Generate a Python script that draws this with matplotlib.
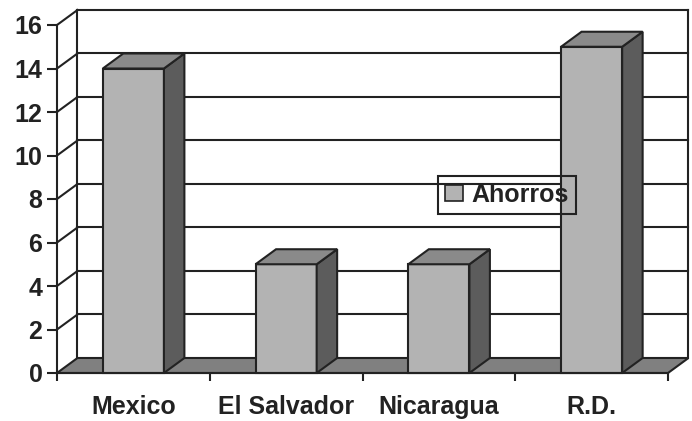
import matplotlib
matplotlib.use("Agg")
import matplotlib.pyplot as plt
from matplotlib.patches import Polygon, Patch, Rectangle

categories = ["Mexico", "El Salvador", "Nicaragua", "R.D."]
ahorros = [14, 5, 5, 15]
series_name = "Ahorros"
y_ticks = [0, 2, 4, 6, 8, 10, 12, 14, 16]

# colours (excel grey 3d look)
front_col = "#b3b3b3"
top_col = "#8a8a8a"
side_col = "#5c5c5c"
floor_col = "#808080"
ink = "#222222"
lw = 1.5
fs = 18

plt.rcParams['font.family'] = ['Liberation Sans', 'DejaVu Sans']

fig = plt.figure(figsize=(6.92, 4.21), dpi=100)
ax = fig.add_axes([57 / 692, 48 / 421, 611 / 692, 348 / 421])
ax.set_xlim(0, len(categories))
ax.set_ylim(0, 16)

# depth offset of the 3d box, in data units
dx = 0.134
dy = 0.69
n = len(categories)


def poly(pts, fc, z):
    ax.add_patch(Polygon(pts, closed=True, facecolor=fc, edgecolor=ink,
                         linewidth=lw, joinstyle='miter', clip_on=False, zorder=z))


# back wall + side wall gridlines
for v in y_ticks[1:]:
    ax.plot([dx, n + dx], [v + dy, v + dy], color=ink, lw=lw, clip_on=False, zorder=1)
    ax.plot([0, dx], [v, v + dy], color=ink, lw=lw, clip_on=False, zorder=1)
ax.plot([dx, dx], [dy, 16 + dy], color=ink, lw=lw, clip_on=False, zorder=1)
ax.plot([n + dx, n + dx], [dy, 16 + dy], color=ink, lw=lw, clip_on=False, zorder=1)

# floor
poly([(0, 0), (n, 0), (n + dx, dy), (dx, dy)], floor_col, 1.2)

# bars
width = 0.4
for i, h in enumerate(ahorros):
    x0 = i + 0.5 - width / 2
    x1 = i + 0.5 + width / 2
    poly([(x0, 0), (x1, 0), (x1, h), (x0, h)], front_col, 3)
    poly([(x1, 0), (x1 + dx, dy), (x1 + dx, h + dy), (x1, h)], side_col, 3)
    poly([(x0, h), (x1, h), (x1 + dx, h + dy), (x0 + dx, h + dy)], top_col, 3)

# axes
for s in ['top', 'right']:
    ax.spines[s].set_visible(False)
for s in ['left', 'bottom']:
    ax.spines[s].set_linewidth(lw)
    ax.spines[s].set_color(ink)
    ax.spines[s].set_zorder(4)
ax.set_yticks(y_ticks)
ax.set_yticklabels([str(v) for v in y_ticks])
ax.set_xticks(range(n + 1))
ax.set_xticklabels([])
ax.set_xticks([i + 0.5 for i in range(n)], minor=True)
ax.set_xticklabels(categories, minor=True)
ax.tick_params(axis='y', direction='out', length=7, width=lw, color=ink, pad=3.5,
               labelsize=fs, labelcolor=ink)
ax.tick_params(axis='x', which='major', direction='out', length=6, width=lw, color=ink)
ax.tick_params(axis='x', which='minor', length=0, pad=16, labelsize=fs, labelcolor=ink)
for t in ax.get_yticklabels() + ax.get_xticklabels(minor=True):
    t.set_fontweight('bold')
ax.patch.set_visible(False)

# legend
leg = ax.legend(handles=[Patch(facecolor=front_col, edgecolor=ink, linewidth=1.2)],
                labels=[series_name], loc='center',
                bbox_to_anchor=(507 / 692, 1 - 194.5 / 421), bbox_transform=fig.transFigure,
                prop={'weight': 'bold', 'size': fs}, frameon=True, fancybox=False,
                borderpad=0.28, handlelength=0.7, handleheight=0.62, handletextpad=0.35,
                framealpha=1)
leg.get_frame().set_edgecolor(ink)
leg.get_frame().set_linewidth(lw)
leg.get_frame().set_facecolor('none')
leg.set_zorder(10)
for t in leg.get_texts():
    t.set_color(ink)

# white fill of the legend sits under the bars
fig.canvas.draw()
bb = leg.get_window_extent().transformed(fig.transFigure.inverted())
fig.add_artist(Rectangle((bb.x0, bb.y0), bb.width, bb.height, transform=fig.transFigure,
                         facecolor='white', edgecolor='none', zorder=0.5))
ax.set_zorder(1)

fig.savefig("out.png", dpi=100, facecolor='white')
